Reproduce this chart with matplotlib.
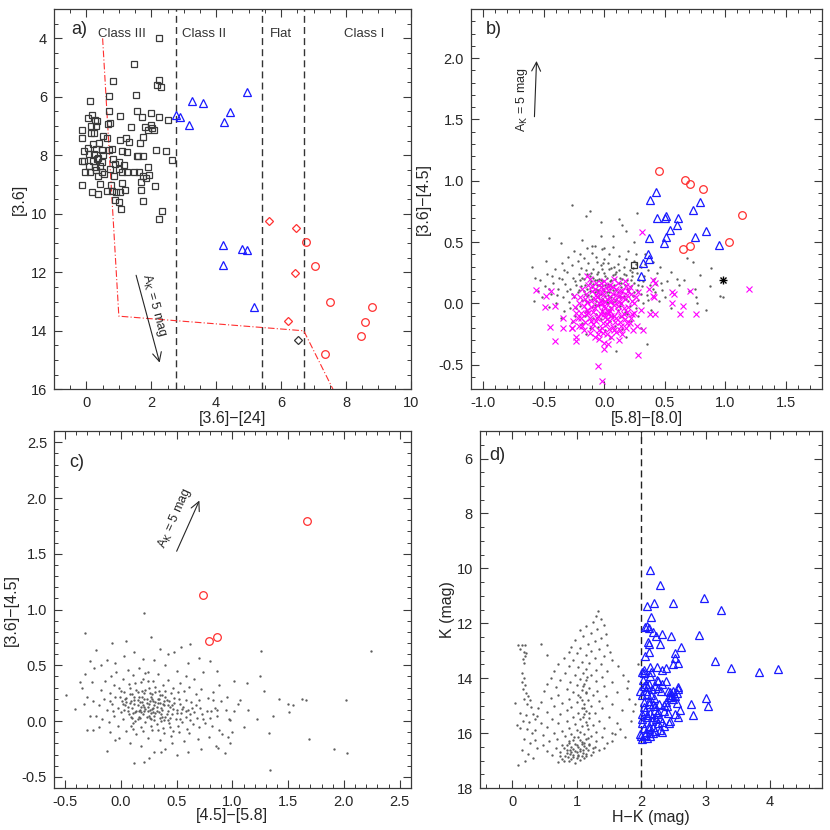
import numpy as np
import matplotlib
matplotlib.use('Agg')
import matplotlib.pyplot as plt
from matplotlib.ticker import MultipleLocator, FormatStrFormatter

plt.rcParams['font.family'] = ['Liberation Sans', 'DejaVu Sans']
plt.rcParams['font.size'] = 10
plt.rcParams['axes.unicode_minus'] = True

# ---------------- panel a : [3.6] vs [3.6]-[24] ----------------
a_class3 = [(2.25,3.98),(1.47,4.89),(0.81,5.45),(2.23,5.41),(2.18,5.60),(2.29,5.66),(0.10,6.13),(0.71,5.98),(1.53,5.94),
    (0.69,6.49),(1.03,6.66),(1.55,6.47),(1.70,6.70),(1.99,6.54),(2.23,6.70),(2.51,6.78),(0.06,6.74),(0.18,6.63),(0.25,6.78),
    (0.33,6.82),(0.31,6.98),(0.15,6.98),(0.67,6.93),(0.73,6.91),(1.36,7.02),(1.82,7.04),(1.89,7.12),(2.02,7.06),(1.99,6.96),
    (2.08,7.12),(1.73,7.38),(0.14,7.25),(0.22,7.23),(-0.13,7.15),(-0.14,7.42),(0.52,7.35),(0.63,7.41),(1.05,7.49),(1.23,7.42),
    (1.32,7.55),(1.65,7.59),(0.21,7.60),(0.40,7.58),(0.04,7.75),(0.29,7.77),(0.47,7.83),(0.69,7.81),(-0.07,7.86),(0.07,7.97),
    (0.23,7.97),(0.37,8.08),(0.52,7.98),(1.09,7.86),(1.26,7.89),(2.13,7.81),(2.44,7.86),(0.78,7.77),(1.58,8.01),(1.56,8.01),
    (1.75,8.01),(0.19,8.21),(0.34,8.13),(0.47,8.23),(-0.14,8.19),(-0.06,8.21),(0.82,8.11),(0.88,8.30),(0.99,8.22),(1.15,8.33),
    (1.89,8.39),(2.64,8.15),(0.26,8.40),(0.43,8.38),(0.07,8.38),(-0.05,8.57),(0.12,8.58),(0.31,8.51),(0.47,8.57),(0.54,8.64),
    (0.85,8.70),(1.11,8.56),(1.26,8.57),(1.46,8.56),(1.62,8.56),(1.76,8.72),(1.85,8.76),(1.93,8.68),(1.69,8.91),(0.35,8.71),
    (0.72,8.47),(0.99,8.47),(0.41,8.98),(0.75,9.03),(1.09,8.93),(1.18,9.17),(1.69,9.20),(2.11,9.05),(-0.13,9.02),(0.17,9.25),
    (0.37,9.31),(0.65,9.21),(0.78,9.23),(0.92,9.25),(1.05,9.26),(0.87,9.52),(0.99,9.58),(1.75,9.55),(2.32,9.89),(1.06,9.82),
    (2.23,10.17)]
a_class2 = [(2.76,6.61),(2.89,6.69),(3.27,6.13),(3.58,6.21),(3.17,6.97),(4.25,6.86),(4.44,6.53),(4.94,5.85),
    (4.20,11.07),(4.22,11.76),(4.81,11.19),(4.94,11.23),(5.17,13.20)]
a_flat = [(5.64,10.24),(6.46,10.49),(6.43,12.01),(6.22,13.66)]
a_flat_black = [(6.51,14.30)]
a_class1 = [(6.77,10.95),(7.05,11.77),(7.50,13.02),(8.81,13.19),(8.59,13.69),(8.47,14.17),(7.36,14.78)]
a_bounds = [2.76, 5.4, 6.7]
a_class_names = ['Class III', 'Class II', 'Flat', 'Class I']
a_class_x = [1.1, 3.63, 6.0, 8.57]
a_cut_x = [0.5, 1.0, 6.7, 7.6]
a_cut_y = [4.0, 13.5, 14.0, 16.0]

# ---------------- panel b : [3.6]-[4.5] vs [5.8]-[8.0] ----------------
b_field = [(-0.28,0.12),(-0.25,0.05),(-0.24,0.18),(-0.22,0.09),(-0.21,0.24),(-0.20,-0.02),(-0.19,0.14),(-0.18,0.03),(-0.17,0.20),
    (-0.16,0.08),(-0.15,0.27),(-0.15,-0.06),(-0.14,0.12),(-0.13,0.01),(-0.12,0.17),(-0.12,0.22),(-0.11,0.06),(-0.10,-0.03),
    (-0.10,0.13),(-0.09,0.28),(-0.08,0.09),(-0.08,0.19),(-0.07,0.02),(-0.07,-0.09),(-0.06,0.15),(-0.06,0.24),(-0.05,0.05),
    (-0.05,0.11),(-0.04,-0.01),(-0.04,0.20),(-0.03,0.08),(-0.03,0.31),(-0.02,0.14),(-0.02,-0.05),(-0.01,0.03),(-0.01,0.18),
    (0.00,0.10),(0.00,0.25),(0.01,-0.08),(0.01,0.06),(0.02,0.13),(0.02,0.21),(0.03,0.00),(0.03,0.16),(0.04,0.09),(0.04,0.28),
    (0.05,-0.03),(0.05,0.12),(0.06,0.05),(0.06,0.19),(0.07,0.23),(0.07,-0.10),(0.08,0.08),(0.08,0.15),(0.09,0.02),(0.10,0.11),
    (0.10,0.26),(0.11,-0.05),(0.12,0.17),(0.12,0.06),(0.13,0.21),(0.14,0.00),(0.14,0.13),(0.15,0.09),(0.16,0.24),(0.17,-0.07),
    (0.17,0.15),(0.18,0.04),(0.19,0.19),(0.20,0.10),(0.21,-0.02),(0.22,0.14),(0.23,0.22),(0.24,0.06),(0.25,0.17),(0.26,-0.04),
    (0.27,0.11),(0.28,0.03),(-0.26,0.21),(-0.23,-0.04),(-0.19,0.29),(-0.16,-0.10),(-0.13,0.33),(-0.11,0.25),(-0.09,-0.12),
    (-0.06,0.34),(-0.03,-0.13),(0.00,0.36),(0.03,0.33),(0.05,-0.14),(0.08,0.30),(0.11,0.32),(0.13,-0.11),(0.16,0.30),
    (0.19,-0.09),(0.21,0.27),(0.24,0.29),(0.27,0.25),(0.29,0.19),(0.30,0.08),(-0.02,0.04),(0.02,0.09),(-0.06,0.10),(0.06,0.14),
    (0.09,0.20),(-0.09,0.16),(-0.14,0.06),(0.13,0.05),(0.01,0.22),(-0.04,0.15),
    (-0.01,0.12),(0.03,0.07),(-0.07,0.12),(0.05,0.18),(-0.10,0.04),(0.11,0.09),(-0.03,0.19),(0.07,0.01),(-0.12,0.10),(0.14,0.17),
    (-0.05,0.26),(0.09,0.24),(-0.16,0.15),(0.16,0.06),(-0.08,-0.01),(0.04,-0.05),(-0.18,0.21),(0.19,0.12),(-0.02,0.28),(0.12,0.27),
    (-0.21,0.11),(0.22,0.19),(-0.14,0.24),(0.20,0.02),(-0.09,0.21),(0.01,0.15),(-0.04,0.07),(0.07,0.11),(-0.11,0.18),(0.15,0.20),
    (-0.13,0.07),(0.10,0.04),(-0.06,0.19),(0.02,0.01),(-0.17,0.10),(0.18,0.23),(-0.23,0.15),(0.25,0.09),(-0.01,0.33),(0.06,0.29),
    (-0.20,0.19),(0.23,0.26),(-0.27,0.08),(0.28,0.15),(-0.15,0.02),(0.13,-0.02),(-0.31,0.10),(0.32,0.18),(-0.35,0.20),(0.36,0.03),
    (-0.39,0.07),(0.40,0.12),(-0.43,0.22),(0.43,0.16),(-0.46,0.12),(-0.33,0.27),(0.34,0.32),(-0.28,-0.04),(0.26,0.32),(-0.07,0.38),
    (-0.60,0.30),(-0.58,0.02),(-0.55,0.10),(-0.53,0.19),(-0.51,0.05),(-0.49,0.14),(-0.47,0.24),(-0.46,-0.03),(-0.44,0.08),
    (-0.42,0.17),(-0.41,0.28),(-0.40,0.00),(-0.38,0.12),(-0.37,0.21),(-0.35,0.33),(-0.34,0.05),(-0.33,-0.06),(-0.32,0.16),
    (-0.31,0.26),(-0.30,0.38),(-0.29,0.01),(-0.27,0.31),(-0.25,0.43),(-0.24,-0.10),(-0.22,0.35),(-0.20,0.40),(-0.18,-0.16),
    (-0.17,0.37),(-0.14,0.45),(-0.12,-0.20),(-0.10,0.41),(-0.08,0.47),(-0.05,-0.19),(-0.02,0.44),(0.01,-0.22),(0.04,0.40),
    (0.07,0.46),(0.09,-0.18),(0.12,0.39),(0.15,-0.21),(0.18,0.36),(0.20,0.43),(0.22,-0.14),(0.25,0.35),(0.28,-0.10),(0.30,0.30),
    (0.31,0.14),(0.32,0.00),(0.33,0.22),(0.35,0.07),(0.36,0.27),(0.38,0.15),(0.39,-0.05),(0.41,0.20),(0.42,0.09),(0.44,0.25),
    (0.45,0.02),(0.47,0.17),(0.48,0.11),(0.50,0.05),(-0.36,-0.12),(-0.27,-0.15),(0.18,-0.27),(0.30,-0.20),(-0.15,-0.25),
    (0.05,-0.28),(0.26,0.40),(-0.48,0.35),(-0.57,0.21),(0.52,0.18),
    (-0.27,0.80),(-0.15,0.71),(-0.03,0.66),(-0.03,0.55),(0.12,0.69),(0.27,0.74),(-0.36,0.49),(-0.18,0.52),(-0.10,0.47),
    (0.00,0.45),(0.07,0.55),(0.18,0.59),(0.25,0.50),(0.34,0.40),(0.40,0.34),(0.46,0.30),(0.55,0.26),(0.60,0.20),(0.62,0.15),
    (0.66,0.19),(0.70,0.10),(0.73,0.34),(0.88,0.29),(0.79,0.23),(0.75,0.12),(0.87,0.14),(0.96,0.06),(0.76,0.05),(0.77,0.00),
    (0.84,-0.05),(0.68,0.37),(-0.46,0.53),(0.35,-0.33),(-0.12,0.75),(0.10,-0.39),(0.55,-0.04),(0.15,0.64),(0.98,0.05)]
b_exc = [(-0.20,0.05),(-0.19,-0.08),(-0.18,0.12),(-0.17,-0.02),(-0.16,-0.15),(-0.15,0.08),(-0.14,-0.05),(-0.13,0.15),(-0.12,-0.12),
    (-0.11,0.02),(-0.10,-0.20),(-0.10,0.10),(-0.09,-0.07),(-0.08,0.04),(-0.07,-0.14),(-0.07,0.17),(-0.06,-0.01),(-0.05,0.09),
    (-0.05,-0.10),(-0.04,-0.22),(-0.03,0.03),(-0.03,0.13),(-0.02,-0.06),(-0.01,-0.16),(-0.01,0.07),(0.00,-0.02),(0.00,0.18),
    (0.01,-0.11),(0.02,0.04),(0.02,-0.25),(0.03,0.11),(0.03,-0.07),(0.04,-0.14),(0.05,0.01),(0.05,0.15),(0.06,-0.04),(0.07,-0.19),
    (0.07,0.08),(0.08,-0.10),(0.09,0.03),(0.10,-0.23),(0.10,0.12),(0.11,-0.06),(0.12,0.06),(0.13,-0.15),(0.14,0.00),(0.15,0.10),
    (0.16,-0.09),(0.17,0.04),(0.18,-0.20),(0.19,0.07),(0.20,-0.03),(0.21,0.13),(0.22,-0.12),(0.23,0.02),(0.25,-0.08),(0.26,0.05),
    (0.24,-0.22),(0.27,-0.18),(0.28,0.09),(-0.22,-0.12),(-0.21,0.00),(-0.24,-0.03),(-0.26,-0.14),(-0.27,-0.20),(-0.25,0.06),
    (-0.08,-0.27),(-0.12,-0.24),(-0.04,-0.29),(0.06,-0.27),(0.15,-0.25),(0.19,-0.16),(0.12,-0.30),(0.00,-0.32),(-0.02,0.09),
    (0.04,0.05),(-0.06,0.05),(0.08,-0.01),(-0.11,-0.03),(0.01,-0.04),(0.03,-0.09),(-0.08,-0.04),(0.06,0.02),(-0.04,0.00),
    (0.10,-0.12),(-0.15,-0.09),(-0.18,-0.18),(0.14,-0.18),(0.18,0.14),(0.22,0.08),(-0.12,0.20),(0.08,0.20),(-0.02,-0.20),
    (0.02,-0.17),(0.11,0.17),(0.30,-0.05),
    (-0.03,-0.09),(0.01,0.01),(0.05,-0.06),(-0.07,0.07),(0.09,-0.15),(-0.09,-0.17),(0.12,0.01),(-0.13,-0.08),(0.16,-0.04),
    (-0.16,0.04),(0.04,-0.21),(-0.01,0.12),(0.07,0.13),(-0.05,-0.25),(0.14,-0.10),(-0.10,0.14),(0.19,-0.07),(-0.19,-0.12),
    (0.02,-0.13),(-0.02,0.00),(0.06,-0.10),(-0.06,-0.12),(0.11,-0.02),(-0.14,0.01),(0.17,-0.13),(0.21,-0.16),(-0.23,-0.08),
    (0.25,0.00),(-0.01,-0.24),(0.08,-0.22),(0.03,0.14),(-0.08,0.12),(0.13,0.10),(-0.17,-0.22),(0.20,0.10),(-0.03,0.17),
    (0.00,-0.09),(0.10,0.07),(-0.11,-0.14),(0.15,0.05),
    (0.31,0.58),(-0.56,0.11),(-0.44,0.10),(-0.48,0.06),(-0.41,-0.02),(-0.49,-0.03),(-0.45,-0.19),(-0.41,-0.31),(-0.23,-0.31),
    (-0.23,-0.27),(-0.34,-0.20),(-0.34,-0.12),(-0.27,-0.20),(-0.21,-0.18),(-0.14,0.22),(0.17,0.18),(0.40,0.19),(0.37,0.12),
    (0.40,0.06),(0.38,-0.09),(0.32,-0.22),(0.28,-0.42),(-0.05,-0.51),(-0.02,-0.63),(0.00,-0.37),(0.03,-0.33),(0.13,-0.22),
    (0.23,-0.09),(0.56,0.09),(0.58,0.08),(0.71,0.10),(0.56,0.00),(0.65,-0.02),(0.63,-0.09),(0.76,-0.09),(1.20,0.12),
    (0.42,0.17),(0.41,0.05),(0.42,-0.09)]
b_class2 = [(0.43,0.91),(0.38,0.84),(0.44,0.70),(0.50,0.70),(0.51,0.71),(0.61,0.70),(0.60,0.64),(0.54,0.60),(0.51,0.54),
    (0.49,0.49),(0.37,0.53),(0.73,0.76),(0.79,0.83),(0.75,0.54),(0.84,0.59),(0.95,0.48),(0.36,0.40),(0.37,0.36),(0.32,0.33),
    (0.30,0.22)]
b_class1 = [(0.45,1.08),(0.67,1.01),(0.71,0.97),(0.82,0.93),(1.14,0.72),(1.03,0.50),(0.71,0.47),(0.65,0.44)]
b_class3 = [(0.25,0.31)]
b_star = [(0.98,0.19)]

# ---------------- panel c : [3.6]-[4.5] vs [4.5]-[5.8] ----------------
c_field = [(-0.15,0.20),(-0.12,0.10),(-0.10,0.25),(-0.08,0.15),(-0.06,0.05),(-0.05,0.22),(-0.03,0.12),(-0.02,0.30),(0.00,0.08),
    (0.01,0.18),(0.02,0.02),(0.03,0.26),(0.04,0.14),(0.05,0.21),(0.06,0.09),(0.07,0.33),(0.08,0.16),(0.09,0.04),(0.10,0.24),
    (0.10,0.12),(0.11,-0.02),(0.12,0.19),(0.13,0.08),(0.14,0.28),(0.15,0.14),(0.15,0.02),(0.16,0.22),(0.17,0.10),(0.18,0.35),
    (0.18,-0.05),(0.19,0.17),(0.20,0.06),(0.21,0.25),(0.21,0.13),(0.22,-0.01),(0.23,0.20),(0.24,0.09),(0.25,0.30),(0.25,0.15),
    (0.26,0.03),(0.27,0.22),(0.28,0.11),(0.28,-0.08),(0.29,0.18),(0.30,0.05),(0.31,0.26),(0.32,0.13),(0.32,-0.03),(0.33,0.20),
    (0.34,0.08),(0.35,0.16),(0.36,0.00),(0.37,0.23),(0.37,0.10),(0.38,-0.06),(0.39,0.14),(0.40,0.04),(0.41,0.19),(0.42,0.09),
    (0.43,-0.02),(0.44,0.13),(0.45,0.25),(0.46,0.06),(0.47,-0.09),(0.48,0.16),(0.49,0.02),(0.50,0.10),(0.51,-0.04),(0.52,0.20),
    (0.54,0.07),(0.55,-0.01),(0.56,0.13),(0.58,0.04),(0.59,-0.07),(0.60,0.10),(0.62,0.01),(0.63,0.17),(0.65,-0.03),(0.66,0.08),
    (0.68,0.03),(0.70,-0.05),(0.71,0.12),(0.73,0.06),(0.75,-0.02),(0.77,0.09),(0.80,0.03),(0.82,-0.04),(0.84,0.12),(0.86,0.05),
    (0.88,-0.08),(-0.20,0.14),(-0.18,0.28),(-0.22,0.05),(-0.25,0.18),(-0.14,0.36),(-0.09,0.40),(-0.04,0.44),(0.02,0.38),
    (0.06,0.46),(0.11,0.41),(0.16,0.48),(0.20,0.38),(0.24,0.44),(0.29,0.36),(0.33,0.42),(0.38,0.32),(0.42,0.37),(0.47,0.30),
    (0.53,0.34),(0.57,0.27),(0.61,0.31),(0.67,0.24),(0.72,0.29),(0.78,0.21),(0.83,0.26),(0.90,0.18),(0.94,0.10),(0.97,0.02),
    (0.91,-0.12),(0.79,-0.14),(0.69,-0.16),(0.57,-0.18),(0.46,-0.20),(0.35,-0.17),(0.24,-0.15),(0.14,-0.12),(0.05,-0.09),
    (-0.03,-0.04),(-0.11,-0.01),(-0.17,0.02),(0.07,0.06),(0.12,0.15),(0.17,0.03),(0.22,0.11),(0.26,0.18),(0.31,0.07),(0.36,0.12),
    (0.40,0.22),(0.44,0.03),(0.19,0.27),(0.08,0.24),(0.13,0.00),(0.27,0.07),(0.34,0.27),(0.39,0.18),(0.03,0.10),(0.15,0.19),
    (0.23,0.04),(0.29,0.12),(0.33,0.16),(0.18,0.08),(0.24,0.13),(0.21,0.20),(0.30,0.01),(0.11,0.07),(0.42,0.14),(0.47,0.11),
    (0.53,0.15),(0.05,0.17),(0.36,0.06),(-0.06,0.32),(0.00,0.27),(0.45,-0.13),(0.52,-0.10),(0.61,-0.11),(0.28,0.24),(0.16,0.09),
    (0.39,0.01),(0.58,0.19),(0.64,0.12),
    (0.20,0.14),(0.26,0.10),(0.31,0.17),(0.14,0.09),(0.09,0.18),(0.35,0.03),(0.28,0.20),(0.18,0.13),(0.23,0.16),(0.32,0.09),
    (0.12,0.22),(0.38,0.15),(0.16,0.04),(0.27,0.02),(0.21,0.09),(0.06,0.13),(0.41,0.06),(0.30,0.14),(0.25,0.05),(0.19,0.22),
    (0.34,0.20),(0.43,0.18),(0.10,0.03),(0.04,0.20),(0.46,0.14),(0.15,0.26),(0.37,0.04),(0.29,0.08),(0.22,0.28),(0.50,0.07),
    (0.02,0.15),(-0.01,0.22),(0.55,0.11),(0.48,0.21),(0.08,0.30),(0.13,0.34),(0.24,0.36),(0.40,0.27),(0.31,0.31),(0.58,0.09),
    (0.62,0.06),(0.44,-0.05),(0.33,-0.08),(0.20,-0.09),(0.09,-0.04),(-0.07,0.09),(-0.10,0.18),(0.17,0.17),(0.26,0.25),(0.35,0.23),
    (0.42,0.01),(0.53,0.02),(0.67,0.14),(0.74,0.02),(0.81,0.09),(0.70,0.19),(0.51,0.26),(0.11,-0.07),(0.27,-0.04),(0.39,-0.11),
    (-0.35,0.30),(-0.33,0.15),(-0.30,0.22),(-0.28,0.05),(-0.26,0.35),(-0.32,0.42),(-0.24,0.48),(-0.18,0.50),(-0.12,0.55),
    (-0.05,0.52),(0.03,0.58),(0.12,0.62),(0.20,0.56),(0.30,0.55),(0.40,0.50),(0.50,0.45),(0.58,0.40),(0.66,0.38),(0.74,0.44),
    (0.60,0.52),(0.35,0.65),(0.05,0.72),(0.22,0.43),(0.88,0.32),(0.95,0.22),(1.05,0.15),(1.10,-0.05),(1.00,-0.10),(0.98,-0.20),
    (0.85,-0.22),(0.72,-0.25),(0.60,-0.28),(0.50,-0.30),(0.40,-0.25),(0.30,-0.28),(0.18,-0.22),(0.08,-0.20),(-0.02,-0.15),
    (-0.10,-0.10),(-0.20,-0.05),(-0.30,-0.08),(0.25,-0.33),(0.12,-0.38),
    (0.21,0.97),(-0.32,0.79),(0.27,0.75),(-0.08,0.70),(-0.22,0.64),(-0.28,0.54),(-0.37,0.35),(-0.49,0.23),(-0.41,0.11),
    (-0.25,-0.08),(-0.12,-0.27),(-0.05,-0.17),(0.21,-0.37),(0.36,-0.28),(0.62,0.69),(0.70,0.57),(0.54,0.66),(0.48,0.62),
    (0.42,0.60),(0.80,0.54),(0.86,0.45),(0.83,0.19),(0.86,0.10),(0.87,-0.24),(0.93,-0.29),(0.96,-0.14),(1.01,0.36),(1.13,0.34),
    (1.25,0.40),(1.26,0.63),(1.28,0.27),(1.33,-0.11),(1.34,-0.44),(1.36,0.05),(1.42,0.20),(1.50,0.15),(1.51,0.08),(1.54,0.14),
    (1.62,0.20),(1.66,0.19),(1.69,-0.16),(1.91,-0.25),(2.02,0.19),(2.03,-0.29),(2.24,0.63),(1.14,0.10),(1.22,0.02),(1.01,0.09),
    (0.98,0.01),(1.07,0.19)]
c_class1 = [(1.67,1.79),(0.74,1.13),(0.79,0.72),(0.86,0.75)]

# ---------------- panel d : K vs H-K ----------------
d_field = [(0.10,12.80),(0.15,12.78),(0.20,12.80),(0.13,12.95),(0.18,13.05),(0.20,13.20),(0.17,13.30),(0.22,13.10),(0.19,13.45),
    (0.45,12.75),(0.55,13.15),(0.16,13.80),(0.18,14.00),(0.15,14.15),(0.20,14.25),(0.17,14.40),(0.21,14.55),(0.25,14.65),
    (0.19,14.75),(0.28,14.80),(0.23,14.95),(0.30,15.05),(0.13,15.25),(0.22,15.35),(0.33,15.30),(0.17,15.55),(0.27,15.60),
    (0.36,15.50),(0.12,15.80),(0.24,15.85),(0.31,16.00),(0.18,16.20),(0.28,16.35),(0.35,16.25),(0.15,16.60),(0.25,16.75),
    (0.32,16.90),(0.10,17.15),(0.20,17.00),(0.05,14.90),(0.08,15.70),(0.38,16.55),
    (1.34,11.55),(1.30,11.75),(1.38,11.85),(1.25,11.95),(1.42,12.05),(1.15,12.10),(1.32,12.20),(1.05,12.25),(1.22,12.35),
    (1.45,12.40),(1.10,12.45),(1.38,12.55),(0.98,12.60),(1.28,12.65),(1.18,12.75),(1.48,12.80),(0.92,12.85),(1.05,12.90),
    (1.35,12.95),(1.22,13.00),(0.88,13.05),(1.52,13.05),(1.00,13.10),(1.14,13.15),(1.42,13.20),(0.80,13.25),(1.28,13.25),
    (0.95,13.35),(1.08,13.40),(1.55,13.35),(1.20,13.45),(0.72,13.50),(1.38,13.50),(0.88,13.55),(1.65,13.55),(1.02,13.60),
    (1.15,13.65),(1.30,13.70),(0.65,13.75),(1.48,13.75),(0.82,13.80),(1.10,13.82),(0.97,13.88),(1.22,13.90),(1.72,13.90),
    (1.40,13.95),(0.60,13.98),(1.05,14.02),(1.15,14.05),(0.75,14.08),(1.30,14.10),(0.90,14.15),(1.55,14.15),(1.12,14.20),
    (0.55,14.22),(1.00,14.25),(1.42,14.28),(0.68,14.32),(1.20,14.35),(1.78,14.35),(0.85,14.40),(1.08,14.42),(1.32,14.45),
    (0.50,14.48),(1.62,14.50),(0.95,14.52),(1.15,14.55),(0.72,14.60),(1.25,14.62),(1.45,14.65),(1.05,14.68),(0.60,14.72),
    (0.88,14.75),(1.18,14.78),(1.82,14.75),(1.35,14.82),(0.45,14.85),(1.00,14.88),(0.78,14.92),(1.12,14.95),(1.55,14.95),
    (1.22,15.00),(0.65,15.02),(0.92,15.05),(1.08,15.08),(0.40,15.10),(1.40,15.10),(0.85,15.15),(1.15,15.18),(1.70,15.15),
    (0.55,15.22),(1.02,15.25),(1.28,15.28),(0.75,15.30),(1.12,15.32),(0.38,15.38),(0.95,15.40),(1.50,15.40),(1.20,15.45),
    (0.62,15.48),(1.05,15.50),(0.85,15.55),(1.35,15.55),(1.15,15.60),(0.45,15.62),(0.72,15.65),(0.98,15.68),(1.62,15.65),
    (1.25,15.72),(1.08,15.75),(0.55,15.78),(0.88,15.80),(1.42,15.82),(1.18,15.85),(0.35,15.88),(0.78,15.92),(1.00,15.90),
    (1.30,15.95),(1.55,15.98),(0.65,15.98),(0.92,16.02),(1.12,16.05),(0.48,16.08),(1.22,16.10),(0.82,16.12),(1.02,16.15),
    (1.40,16.15),(0.70,16.20),(1.15,16.22),(0.95,16.25),(1.30,16.28),(0.58,16.30),(1.08,16.32),(0.88,16.35),(1.20,16.38),
    (1.48,16.35),(0.78,16.42),(1.00,16.45),(1.12,16.48),(0.92,16.50),(1.28,16.50),(0.68,16.55),(1.05,16.58),(0.85,16.60),
    (1.18,16.62),(0.98,16.65),(1.35,16.62),(0.75,16.70),(1.10,16.72),(0.90,16.75),(1.02,16.78),(0.82,16.82),(1.22,16.80),
    (0.95,16.88),(1.12,16.90),(0.78,16.95),(1.05,16.98),(0.88,17.02),(0.98,17.08),(0.72,17.05),(1.15,16.85),(0.85,16.45),
    (1.00,16.92),(0.92,16.70),(1.25,16.68),(0.80,16.55),(1.08,16.40),(0.95,16.58),(1.15,16.55),(1.03,16.85),(0.87,16.88),
    (0.62,16.80),(0.55,16.65),(0.48,16.45),(1.42,16.55),(1.55,16.30),(1.60,16.05),(1.75,16.15),(1.68,15.85),(1.85,15.55),
    (1.90,14.95),(1.95,13.50),(1.80,14.10),(1.88,15.20),
    (0.90,16.60),(1.00,16.70),(1.10,16.60),(0.95,16.80),(1.05,16.65),(0.85,16.72),(1.15,16.75),(0.80,17.00),(0.92,16.95),
    (1.08,16.82),(0.98,16.40),(1.02,16.52),(0.88,16.28),(1.20,16.45),(1.12,16.35),(0.75,16.85),(1.25,16.55),(0.96,16.15),
    (1.06,16.25),(1.18,16.18),(1.10,15.40),(1.12,15.10),(1.08,14.80),(1.14,14.50),(1.10,14.30),(1.17,15.70),(1.05,15.95),
    (1.20,15.25),(1.02,14.60),(1.16,13.95)]
d_excess = [(2.14,10.07),(2.29,10.60),(2.10,11.36),(2.20,11.27),(2.50,11.27),(2.97,11.09),(3.24,11.51),(2.16,11.76),
    (2.06,12.15),(2.10,12.09),(2.13,12.16),(2.18,12.31),(2.23,12.48),(2.32,12.38),(2.47,12.47),(2.90,12.43),(2.13,12.74),
    (2.11,12.70),(2.29,12.74),(2.62,12.86),(2.13,13.04),(2.06,13.19),(2.53,13.10),(2.52,13.26),(2.49,13.48),(3.14,13.39),
    (3.40,13.63),(3.83,13.76),(4.12,13.67),(2.01,13.78),(2.05,13.80),(2.14,13.59),(2.16,13.78),(2.24,13.59),(2.32,13.69),
    (2.38,13.62),(2.14,13.92),(2.27,14.11),(2.38,14.12),(1.99,14.45),(2.04,14.27),(2.09,14.33),(2.12,14.21),(2.17,14.41),
    (2.21,14.27),(2.27,14.37),(2.31,14.45),(2.02,14.63),(2.09,14.57),(2.45,14.51),(2.48,14.61),(2.43,14.70),(2.50,14.76),
    (2.53,14.66),(2.58,14.41),(3.01,14.72),(3.04,15.03),(2.77,14.94),(2.80,15.33),(2.04,14.88),(2.12,14.82),(2.19,14.94),
    (2.22,15.03),(2.35,14.98),(2.06,15.19),(2.14,15.25),(2.27,15.22),(2.42,15.25),(2.52,15.31),(2.58,15.41),(2.01,15.49),
    (2.09,15.43),(2.17,15.55),(2.23,15.49),(2.32,15.58),(2.44,15.64),(2.04,15.80),(2.12,15.74),(2.19,15.76),(2.30,15.90),
    (1.99,16.04),(2.06,16.08),(2.14,15.98),(2.22,15.92),(2.01,16.20),(2.09,16.17),
    (2.03,14.05),(2.08,14.45),(2.15,14.62),(2.20,14.72),(2.05,15.05),(2.10,15.35),(2.17,15.40),(2.25,15.30),(2.30,15.45),
    (2.02,15.62),(2.12,15.85),(2.18,16.00),(2.26,15.65),(2.35,15.20),(2.40,15.00),(2.00,16.10),(2.07,15.95),(2.14,16.10),
    (2.45,14.60),(2.50,14.45),(2.47,14.70),(2.55,14.55),(2.42,14.45),(2.33,14.20),(2.24,14.05),(2.35,15.75),(2.45,15.55),
    (2.60,15.15),(2.55,14.90),(2.38,14.85),(2.28,14.95),(2.04,13.70),(2.07,14.20),(2.12,14.95),(2.22,15.15),(2.02,15.30),
    (2.33,15.95),(2.57,13.45),(2.58,14.33)]
d_cut = 2.0

GRAY = '#5e5e5e'
BLUE = '#1a1aff'
RED = '#ff3030'
AXC = '#3a3a3a'
TXT = '#262626'


def xy(pts):
    return [p[0] for p in pts], [p[1] for p in pts]


def style(ax, xmaj, xmin, ymaj, ymin, fmt=None):
    ax.xaxis.set_major_locator(MultipleLocator(xmaj))
    ax.xaxis.set_minor_locator(MultipleLocator(xmin))
    ax.yaxis.set_major_locator(MultipleLocator(ymaj))
    ax.yaxis.set_minor_locator(MultipleLocator(ymin))
    ax.tick_params(which='both', direction='in', top=True, right=True, color=AXC,
                   labelsize=10.5, labelcolor=TXT, pad=5)
    ax.tick_params(which='major', length=6, width=0.8)
    ax.tick_params(which='minor', length=3, width=0.7)
    for s in ax.spines.values():
        s.set_color(AXC)
        s.set_linewidth(0.9)
    if fmt:
        ax.xaxis.set_major_formatter(fmt)
        ax.yaxis.set_major_formatter(fmt)


def dots(ax, pts):
    x, y = xy(pts)
    ax.plot(x, y, 'o', ms=1.7, mew=0, color=GRAY, linestyle='none')


def opensym(ax, pts, marker, color, ms, mew=0.9):
    x, y = xy(pts)
    ax.plot(x, y, marker, ms=ms, mfc='none', mec=color, mew=mew, linestyle='none')


def labels(ax, xl, yl, xpos, ypos):
    ax.set_xlabel(xl, fontsize=11.5, color=TXT)
    ax.set_ylabel(yl, fontsize=11.5, color=TXT)
    ax.xaxis.set_label_coords(0.5, xpos)
    ax.yaxis.set_label_coords(ypos, 0.5)


fig = plt.figure(figsize=(8.3, 8.3), dpi=100)
axa = fig.add_axes([0.065, 0.531, 0.430, 0.458])
axb = fig.add_axes([0.5675, 0.531, 0.423, 0.458])
axc = fig.add_axes([0.065, 0.0506, 0.430, 0.430])
axd = fig.add_axes([0.578, 0.0506, 0.412, 0.430])

fmt1 = FormatStrFormatter('%.1f')
arrow = dict(arrowstyle='->', lw=0.8, color=TXT, mutation_scale=16)

# ---- a
ax = axa
for xb in a_bounds:
    ax.axvline(xb, color='#333333', lw=1.0, dashes=(5, 3))
ax.plot(a_cut_x, a_cut_y, color=RED, lw=0.8, dashes=(6, 2, 1, 2))
opensym(ax, a_class3, 's', '#3a3a3a', 4.2)
opensym(ax, a_class2, '^', BLUE, 5.5)
opensym(ax, a_flat, 'D', RED, 4.3)
opensym(ax, a_flat_black, 'D', '#333333', 4.3)
opensym(ax, a_class1, 'o', RED, 5.5)
for nm, xc in zip(a_class_names, a_class_x):
    ax.text(xc, 3.85, nm, ha='center', va='center', fontsize=9.5, color='#333333')
ax.annotate('', xy=(2.28, 15.18), xytext=(1.51, 12.01), arrowprops=arrow)
ax.text(2.08, 13.12, r'A$_{\rm K}$ = 5 mag', rotation=-75, rotation_mode='anchor',
        ha='center', va='center', fontsize=9, color=TXT)
ax.text(0.07, 0.947, 'a)', transform=ax.transAxes, fontsize=13, ha='center', va='center', color=TXT)
ax.set_xlim(-1, 10)
ax.set_ylim(16, 3)
style(ax, 2, 0.5, 2, 0.5)
labels(ax, '[3.6]\u2212[24]', '[3.6]', -0.058, -0.076)

# ---- b
ax = axb
dots(ax, b_field)
bx, by = xy(b_exc)
ax.plot(bx, by, 'x', ms=4.5, mew=0.8, color='#ff00ff', linestyle='none')
opensym(ax, b_class2, '^', BLUE, 5.5)
opensym(ax, b_class1, 'o', RED, 5.5)
opensym(ax, b_class3, 's', '#333333', 4.2)
sx, sy = xy(b_star)
ax.plot(sx, sy, '+', ms=6, mew=1.0, color='k')
ax.plot(sx, sy, 'x', ms=4.5, mew=1.0, color='k')
ax.annotate('', xy=(-0.558, 2.0), xytext=(-0.577, 1.50), arrowprops=arrow)
ax.text(-0.68, 1.66, r'A$_{\rm K}$ = 5 mag', rotation=90, ha='center', va='center',
        fontsize=9, color=TXT)
ax.text(0.066, 0.947, 'b)', transform=ax.transAxes, fontsize=13, ha='center', va='center', color=TXT)
ax.set_xlim(-1.1, 1.8)
ax.set_ylim(-0.7, 2.4)
style(ax, 0.5, 0.1, 0.5, 0.1, fmt1)
labels(ax, '[5.8]\u2212[8.0]', '[3.6]\u2212[4.5]', -0.058, -0.114)

# ---- c
ax = axc
dots(ax, c_field)
opensym(ax, c_class1, 'o', RED, 5.5)
ax.annotate('', xy=(0.714, 2.0), xytext=(0.49, 1.50), arrowprops=arrow)
ax.text(0.48, 1.82, r'A$_{\rm K}$ = 5 mag', rotation=66, rotation_mode='anchor',
        ha='center', va='center', fontsize=9, color=TXT)
ax.text(0.064, 0.913, 'c)', transform=ax.transAxes, fontsize=13, ha='center', va='center', color=TXT)
ax.set_xlim(-0.6, 2.6)
ax.set_ylim(-0.6, 2.6)
style(ax, 0.5, 0.1, 0.5, 0.1, fmt1)
labels(ax, '[4.5]\u2212[5.8]', '[3.6]\u2212[4.5]', -0.056, -0.098)

# ---- d
ax = axd
dots(ax, d_field)
ax.axvline(d_cut, color='#222222', lw=1.0, dashes=(5, 3))
opensym(ax, d_excess, '^', BLUE, 5.5)
ax.text(0.05, 0.933, 'd)', transform=ax.transAxes, fontsize=13, ha='center', va='center', color=TXT)
ax.set_xlim(-0.5, 4.8)
ax.set_ylim(18, 5)
style(ax, 1, 0.2, 2, 0.5)
labels(ax, 'H\u2212K (mag)', 'K (mag)', -0.062, -0.073)

fig.savefig('out.png', dpi=100)
